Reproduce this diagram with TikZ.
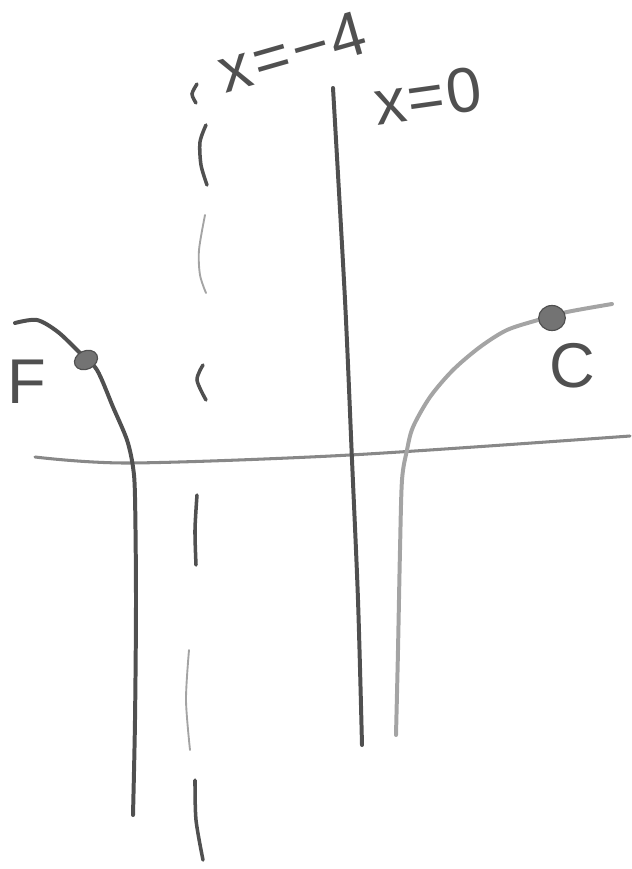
\documentclass[tikz,border=0pt]{standalone}
\usepackage{fontspec}
\setsansfont{Liberation Sans}
\usetikzlibrary{shapes.geometric}

\definecolor{pencil}{HTML}{505050}
\definecolor{pencillight}{HTML}{A4A4A4}
\definecolor{pencilmid}{HTML}{888888}

\begin{document}
\begin{tikzpicture}[
    x=0.03cm, y=-0.03cm,
    curve/.style={line width=3.4pt, line cap=round},
    asym/.style={line width=3pt, line cap=round, pencil},
    dot/.style={ellipse, draw=pencil, fill=pencil!80, line width=1pt, inner sep=0pt},
    lbl/.style={font=\sffamily\fontsize{54}{60}\selectfont, text=pencil, inner sep=0pt}
]
    \useasboundingbox (0,0) rectangle (631,869);

    % 1. Axes
    \draw[curve, pencilmid, line width=2.6pt] plot[smooth] coordinates {(35,457) (130,463) (350,455) (630,436)};
    \draw[curve, pencil] plot[smooth] coordinates {(333,88) (345,300) (352,460) (358,600) (362,745)};

    % 2. Dashed asymptote x=-4 (hand dashes)
    \draw[asym] plot[smooth] coordinates {(197,84) (192,94) (196,103)};
    \draw[asym] plot[smooth] coordinates {(206,125) (200,142) (201,165) (207,185)};
    \draw[asym, pencillight, line width=1.6pt] plot[smooth] coordinates {(205,215) (199,250) (200,275) (206,293)};
    \draw[asym] plot[smooth] coordinates {(203,365) (197,380) (206,400)};
    \draw[asym] plot[smooth] coordinates {(197,495) (195,530) (196,565)};
    \draw[asym, pencillight, line width=1.6pt] plot[smooth] coordinates {(189,650) (186,700) (190,750)};
    \draw[asym] plot[smooth] coordinates {(195,780) (196,820) (203,860)};

    % 3. Curves
    \draw[curve, pencil] plot[smooth] coordinates {(15,323) (37,320) (58,332) (80,353) (97,370) (113,407) (127,440) (133,467) (135,497) (136,600) (135,720) (133,815)};
    \draw[curve, pencillight] plot[smooth] coordinates {(612,304) (567,312) (538,320) (507,330) (480,347) (453,370) (430,397) (413,427) (407,450) (402,480) (400,550) (398,650) (396,735)};

    % 4. Points
    \node[dot, minimum width=0.72cm, minimum height=0.55cm, rotate=25] (ptF) at (86,360) {};
    \node[dot, minimum width=0.8cm, minimum height=0.75cm] (ptC) at (552,318) {};

    % 5. Labels
    \node[lbl, rotate=16] (lblA) at (292,52) {x\kern3pt=\kern3pt−\kern2pt4};
    \node[lbl, rotate=8] (lblB) at (428,96) {x\kern2pt=\kern2pt0};
    \node[lbl] (lblF) at (27,382) {F};
    \node[lbl] (lblC) at (572,366) {C};

\end{tikzpicture}
\end{document}
